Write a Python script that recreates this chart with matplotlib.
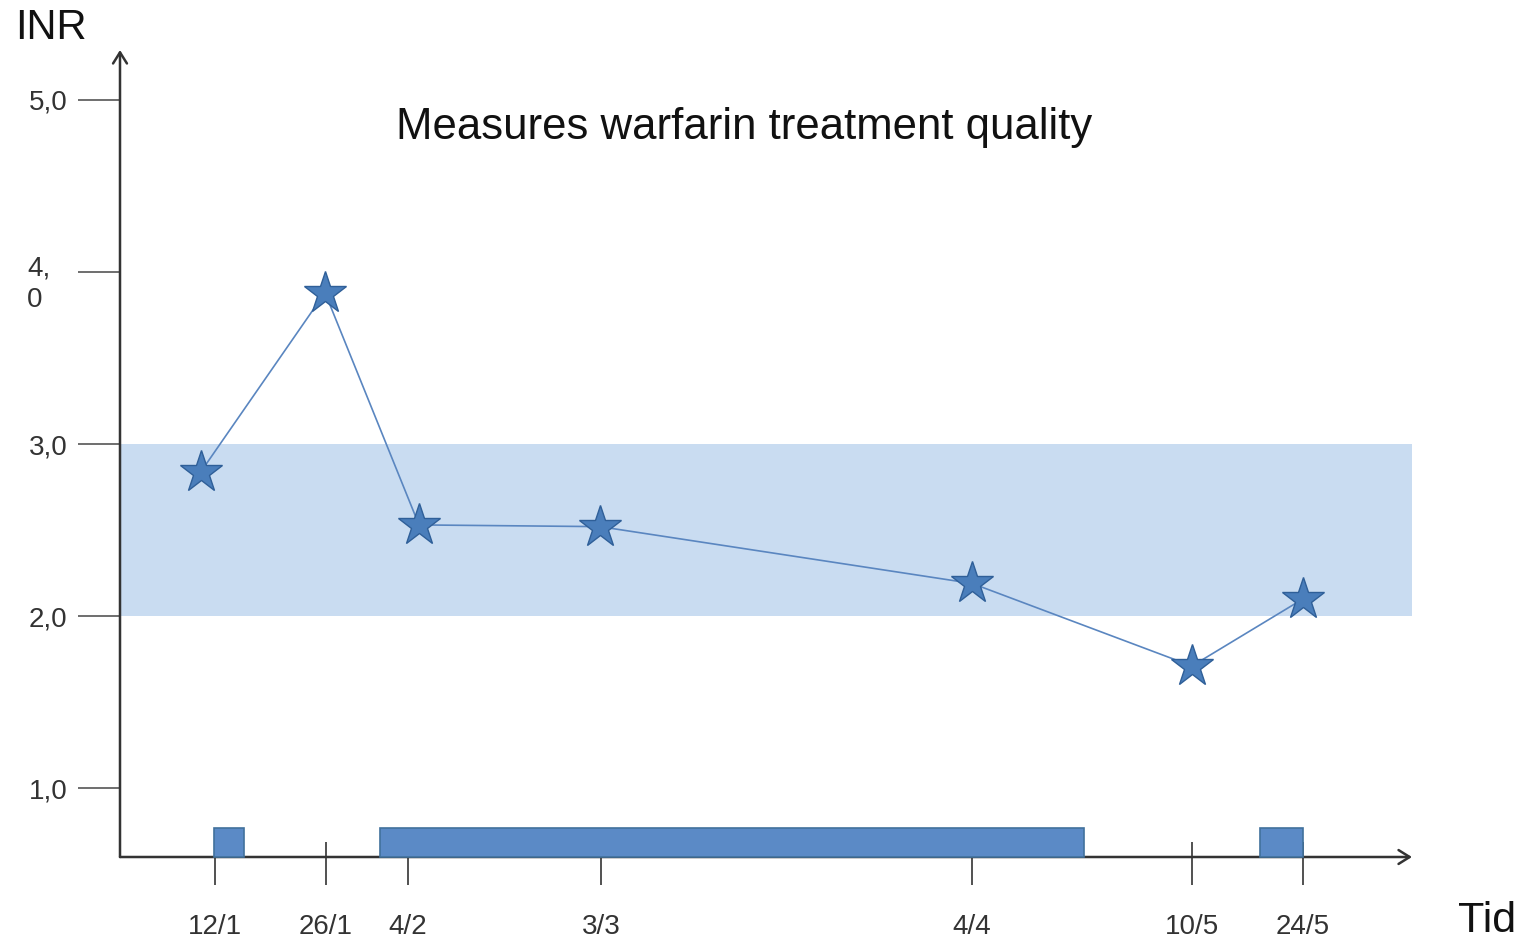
import numpy as np
import matplotlib.pyplot as plt
from matplotlib.transforms import offset_copy
from matplotlib.patches import Rectangle

plt.rcParams['font.family'] = ['Liberation Sans', 'DejaVu Sans']

# --- data (x in the chart's own hand-drawn time units) ---
date_labels = ['12/1', '26/1', '4/2', '3/3', '4/4', '10/5', '24/5']
date_x = [95, 206, 288, 481, 852, 1072, 1183]
point_x = [81, 205, 299, 480, 852, 1072, 1183]
inr_values = [2.84, 3.88, 2.53, 2.52, 2.19, 1.71, 2.10]
target_low, target_high = 2.0, 3.0
treatment_periods = [(94, 124), (260, 964), (1140, 1183)]
y_ticks = [1.0, 2.0, 3.0, 4.0, 5.0]
y_tick_labels = ['1,0', '2,0', '3,0', '4,\n0', '5,0']

W, H = 1529, 943
fig = plt.figure(figsize=(W / 100, H / 100), dpi=100)
ax = fig.add_axes([120 / W, (H - 857) / H, (1412 - 120) / W, (857 - 50) / H])
ax.set_xlim(0, 1292)
ax.set_ylim(0.6, 5.29)
for s in ax.spines.values():
    s.set_visible(False)

axis_col = '#333333'
blue = '#4a7ebb'

# target range band
ax.axhspan(target_low, target_high, color='#c9dcf1', lw=0, zorder=1)

# axis lines with arrows
arrow_style = '->,head_length=0.8,head_width=0.5'
ax.annotate('', xy=(0, 1.0), xycoords='axes fraction', xytext=(0, 0),
            arrowprops=dict(arrowstyle=arrow_style, color=axis_col, lw=1.8,
                            shrinkA=0, shrinkB=0), zorder=3)
ax.annotate('', xy=(1.0, 0), xycoords='axes fraction', xytext=(0, 0),
            arrowprops=dict(arrowstyle=arrow_style, color=axis_col, lw=1.8,
                            shrinkA=0, shrinkB=0), zorder=3)

# y ticks; the "4,\n0" label hangs below its tick so it is placed by hand
ax.set_yticks(y_ticks)
ax.set_yticklabels(['' if '\n' in t else t for t in y_tick_labels], fontsize=20, color='#333333')
ax.tick_params(axis='y', direction='out', length=30, width=1.2, color='#555555', pad=8)
hang_tf = offset_copy(ax.get_yaxis_transform(), fig=fig, x=-67, y=12, units='points')
for v, t in zip(y_ticks, y_tick_labels):
    if '\n' in t:
        ax.text(0, v, t, transform=hang_tf, ha='left', va='top', fontsize=20,
                color='#333333', linespacing=1.3)

# x ticks
ax.set_xticks(date_x)
ax.set_xticklabels(date_labels, fontsize=20, color='#333333')
ax.tick_params(axis='x', direction='out', length=20, width=1.2, color='#333333', pad=21)
# tick stubs above the time axis
ax.vlines(date_x, 0.6, 0.685, color='#333333', lw=1.2, zorder=2)

# treatment periods
bar_h = 0.17
for x0, x1 in treatment_periods:
    ax.add_patch(Rectangle((x0, 0.6), x1 - x0, bar_h, facecolor='#5b8ac6',
                           edgecolor='#41719c', lw=1.2, zorder=4, clip_on=False))

# INR measurements
ax.plot(point_x, inr_values, color='#5a86c0', lw=1.2, zorder=5,
        marker='*', markersize=32, markerfacecolor=blue, markeredgecolor='#2f5f98',
        markeredgewidth=1.0)

fig.text(744 / W, 1 - 127 / H, 'Measures warfarin treatment quality', fontsize=31.5,
         ha='center', va='center', color='#111111')
fig.text(15 / W, 1 - 28 / H, 'INR', fontsize=30, ha='left', va='center', color='#111111')
fig.text(1458 / W, 1 - 921 / H, 'Tid', fontsize=31, ha='left', va='center', color='#111111')

fig.savefig('out.png', dpi=100)
